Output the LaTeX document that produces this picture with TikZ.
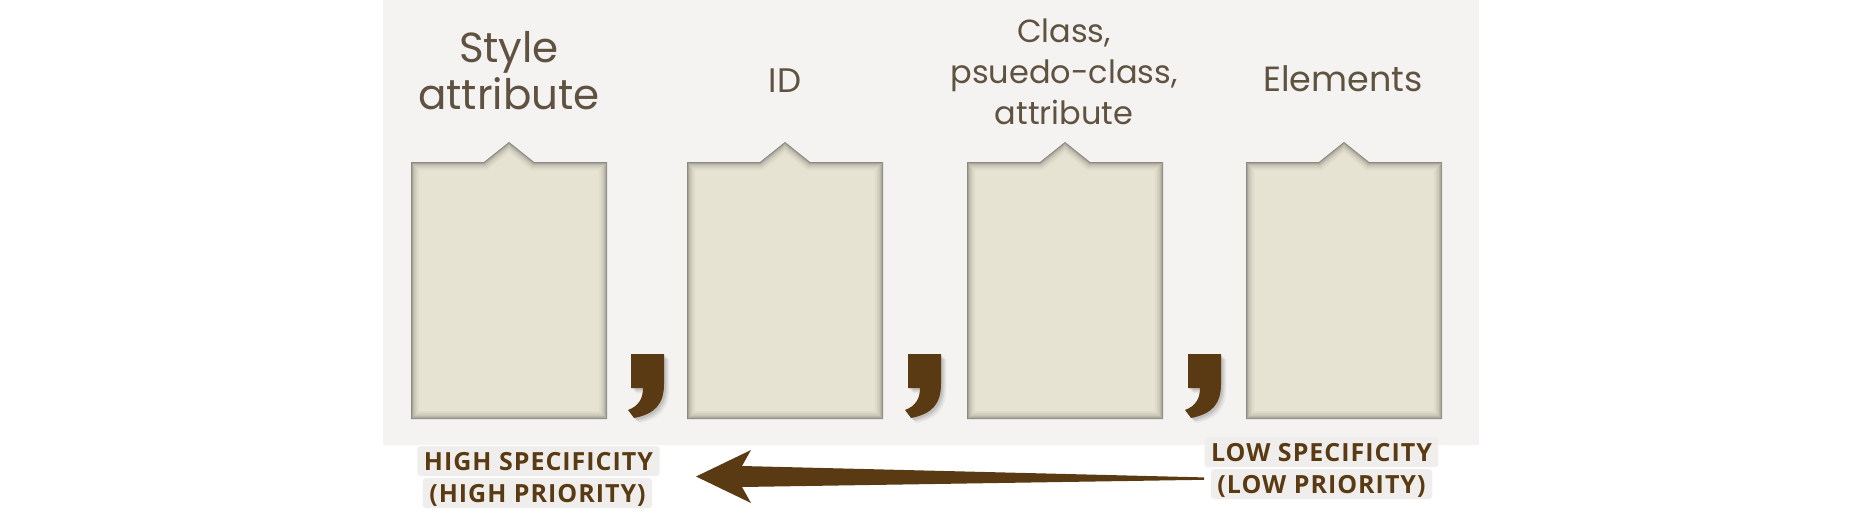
\documentclass[tikz,border=0pt]{standalone}
\usepackage{fontspec}
\setmainfont{Poppins}
\newfontfamily\lblfont[LetterSpace=4]{Open Sans}
\usetikzlibrary{calc}
\definecolor{panelbg}{HTML}{F4F3F1}
\definecolor{slotfill}{HTML}{E6E3D2}
\definecolor{ink}{HTML}{5A3A12}
\definecolor{titlecol}{HTML}{5F5241}
\definecolor{hlbg}{HTML}{EFEEEC}
\begin{document}
\begin{tikzpicture}[x=1pt,y=-1pt,
  title/.style={inner sep=0pt, align=center, text=titlecol, anchor=south},
  hl/.style={font=\lblfont\bfseries\fontsize{25}{28}\selectfont, text=ink, fill=hlbg,
     rounded corners=3pt, inner xsep=6.5pt, inner ysep=6pt, anchor=base,
     text height=18pt, text depth=0pt}]
\useasboundingbox (0,0) rectangle (1871,519);
\fill[white] (0,0) rectangle (1871,519);
\fill[panelbg] (383,0) rectangle (1479,445);
% slots
\foreach \x/\n in {411/s1,687/s2,967/s3,1246/s4}{
  \begin{scope}
    \clip (\x,162) -- (\x+73,162) -- (\x+98,142) -- (\x+123,162) -- (\x+196,162) -- (\x+196,419) -- (\x,419) -- cycle;
    \fill[slotfill] (\x,142) rectangle (\x+196,419);
    \foreach \w/\o in {16/0.03,12/0.04,9/0.05,6/0.07,3.5/0.1,1.5/0.16}{
      \draw[line width=\w pt, draw=black, opacity=\o, line join=miter]
        (\x,162) -- (\x+73,162) -- (\x+98,142) -- (\x+123,162) -- (\x+196,162) -- (\x+196,419) -- (\x,419) -- cycle;
    }
  \end{scope}
  \coordinate (\n) at (\x+98,290);
}
% titles
\node[title, font=\fontsize{42}{47}\selectfont] (t1) at (509,110) {Style\\attribute};
\node[title, font=\fontsize{34}{40}\selectfont] (t2) at (785,93) {ID};
\node[title, font=\fontsize{32}{41}\selectfont] (t3) at (1064,125) {Class,\\psuedo-class,\\attribute};
\node[title, font=\fontsize{35}{40}\selectfont] (t4) at (1343,92) {Elements};
% commas
\foreach \cx/\n in {631/c1,908/c2,1188/c3}{
  \foreach \d/\o in {5/0.05,3.5/0.07,2/0.09}{
    \fill[black, opacity=\o] (\cx+\d,354+\d) -- (\cx+33+\d,354+\d) -- (\cx+33+\d,384+\d) .. controls (\cx+33+\d,404+\d) and (\cx+24+\d,414+\d) .. (\cx+3+\d,418+\d) -- (\cx-3+\d,410+\d) .. controls (\cx+8+\d,406+\d) and (\cx+12+\d,398+\d) .. (\cx+12+\d,388+\d) -- (\cx+\d,388+\d) -- cycle;
  }
  \fill[ink] (\cx,354) -- (\cx+33,354) -- (\cx+33,384) .. controls (\cx+33,404) and (\cx+24,414) .. (\cx+3,418) -- (\cx-3,410) .. controls (\cx+8,406) and (\cx+12,398) .. (\cx+12,388) -- (\cx,388) -- cycle;
  \coordinate (\n) at (\cx+16,386);
}
% labels
\node[hl] (hi1) at (538.5,470) {HIGH SPECIFICITY};
\node[hl] (hi2) at (537.5,502) {(HIGH PRIORITY)};
\node[hl] (lo1) at (1321.5,461) {LOW SPECIFICITY};
\node[hl] (lo2) at (1321.5,493) {(LOW PRIORITY)};
% arrow
\coordinate (ahead) at (696,476.5);
\coordinate (atail) at (1204,478.6);
\fill[ink] (ahead) -- ($(ahead)+(55,-26.5)$) -- ($(ahead)+(46,-10.5)$) -- ($(atail)+(0,-1.2)$) -- ($(atail)+(0,1.2)$) -- ($(ahead)+(46,10.5)$) -- ($(ahead)+(55,26.5)$) -- cycle;
\end{tikzpicture}
\end{document}
